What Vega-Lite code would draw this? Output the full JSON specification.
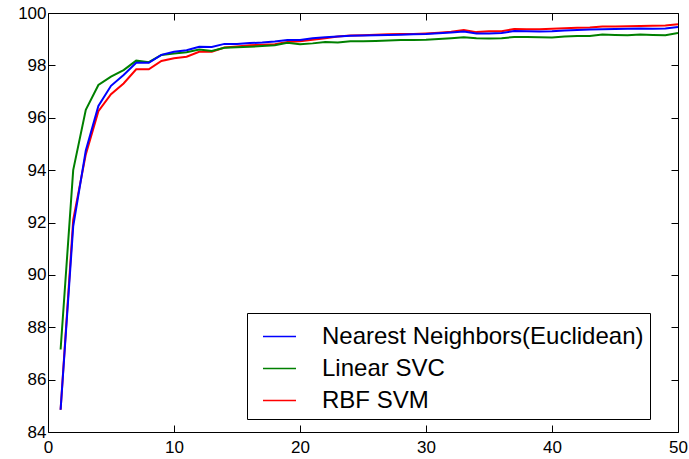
{
  "$schema": "https://vega.github.io/schema/vega-lite/v6.json",
  "width": 630,
  "height": 419,
  "autosize": {"type": "none"},
  "padding": {"left": 48, "top": 13, "right": 11, "bottom": 27},
  "background": "white",
  "config": {
    "view": {"stroke": "black", "strokeWidth": 1},
    "axis": {
      "labelFont": "Liberation Sans",
      "labelFontSize": 17,
      "labelColor": "black",
      "domain": false,
      "grid": false,
      "tickColor": "black",
      "tickSize": -7,
      "tickWidth": 1,
      "title": null
    }
  },
  "datasets": {
    "acc": [
      {"n": 1, "model": "RBF SVM", "acc": 84.85},
      {"n": 2, "model": "RBF SVM", "acc": 92.1},
      {"n": 3, "model": "RBF SVM", "acc": 94.6},
      {"n": 4, "model": "RBF SVM", "acc": 96.25},
      {"n": 5, "model": "RBF SVM", "acc": 96.9},
      {"n": 6, "model": "RBF SVM", "acc": 97.31},
      {"n": 7, "model": "RBF SVM", "acc": 97.85},
      {"n": 8, "model": "RBF SVM", "acc": 97.85},
      {"n": 9, "model": "RBF SVM", "acc": 98.17},
      {"n": 10, "model": "RBF SVM", "acc": 98.27},
      {"n": 11, "model": "RBF SVM", "acc": 98.33},
      {"n": 12, "model": "RBF SVM", "acc": 98.52},
      {"n": 13, "model": "RBF SVM", "acc": 98.52},
      {"n": 14, "model": "RBF SVM", "acc": 98.68},
      {"n": 15, "model": "RBF SVM", "acc": 98.72},
      {"n": 16, "model": "RBF SVM", "acc": 98.77},
      {"n": 17, "model": "RBF SVM", "acc": 98.79},
      {"n": 18, "model": "RBF SVM", "acc": 98.81},
      {"n": 19, "model": "RBF SVM", "acc": 98.89},
      {"n": 20, "model": "RBF SVM", "acc": 98.92},
      {"n": 21, "model": "RBF SVM", "acc": 98.98},
      {"n": 22, "model": "RBF SVM", "acc": 99.04},
      {"n": 23, "model": "RBF SVM", "acc": 99.1},
      {"n": 24, "model": "RBF SVM", "acc": 99.14},
      {"n": 25, "model": "RBF SVM", "acc": 99.15},
      {"n": 26, "model": "RBF SVM", "acc": 99.17},
      {"n": 27, "model": "RBF SVM", "acc": 99.19},
      {"n": 28, "model": "RBF SVM", "acc": 99.2},
      {"n": 29, "model": "RBF SVM", "acc": 99.2},
      {"n": 30, "model": "RBF SVM", "acc": 99.22},
      {"n": 31, "model": "RBF SVM", "acc": 99.25},
      {"n": 32, "model": "RBF SVM", "acc": 99.28},
      {"n": 33, "model": "RBF SVM", "acc": 99.35},
      {"n": 34, "model": "RBF SVM", "acc": 99.27},
      {"n": 35, "model": "RBF SVM", "acc": 99.3},
      {"n": 36, "model": "RBF SVM", "acc": 99.3},
      {"n": 37, "model": "RBF SVM", "acc": 99.39},
      {"n": 38, "model": "RBF SVM", "acc": 99.38},
      {"n": 39, "model": "RBF SVM", "acc": 99.38},
      {"n": 40, "model": "RBF SVM", "acc": 99.4},
      {"n": 41, "model": "RBF SVM", "acc": 99.42},
      {"n": 42, "model": "RBF SVM", "acc": 99.44},
      {"n": 43, "model": "RBF SVM", "acc": 99.45},
      {"n": 44, "model": "RBF SVM", "acc": 99.48},
      {"n": 45, "model": "RBF SVM", "acc": 99.48},
      {"n": 46, "model": "RBF SVM", "acc": 99.49},
      {"n": 47, "model": "RBF SVM", "acc": 99.5},
      {"n": 48, "model": "RBF SVM", "acc": 99.51},
      {"n": 49, "model": "RBF SVM", "acc": 99.52},
      {"n": 50, "model": "RBF SVM", "acc": 99.57},
      {"n": 1, "model": "Linear SVC", "acc": 87.15},
      {"n": 2, "model": "Linear SVC", "acc": 94.0},
      {"n": 3, "model": "Linear SVC", "acc": 96.3},
      {"n": 4, "model": "Linear SVC", "acc": 97.25},
      {"n": 5, "model": "Linear SVC", "acc": 97.57},
      {"n": 6, "model": "Linear SVC", "acc": 97.82},
      {"n": 7, "model": "Linear SVC", "acc": 98.18},
      {"n": 8, "model": "Linear SVC", "acc": 98.12},
      {"n": 9, "model": "Linear SVC", "acc": 98.4},
      {"n": 10, "model": "Linear SVC", "acc": 98.45},
      {"n": 11, "model": "Linear SVC", "acc": 98.5},
      {"n": 12, "model": "Linear SVC", "acc": 98.61},
      {"n": 13, "model": "Linear SVC", "acc": 98.55},
      {"n": 14, "model": "Linear SVC", "acc": 98.67},
      {"n": 15, "model": "Linear SVC", "acc": 98.69},
      {"n": 16, "model": "Linear SVC", "acc": 98.71},
      {"n": 17, "model": "Linear SVC", "acc": 98.74},
      {"n": 18, "model": "Linear SVC", "acc": 98.77},
      {"n": 19, "model": "Linear SVC", "acc": 98.86},
      {"n": 20, "model": "Linear SVC", "acc": 98.81},
      {"n": 21, "model": "Linear SVC", "acc": 98.84},
      {"n": 22, "model": "Linear SVC", "acc": 98.89},
      {"n": 23, "model": "Linear SVC", "acc": 98.87},
      {"n": 24, "model": "Linear SVC", "acc": 98.92},
      {"n": 25, "model": "Linear SVC", "acc": 98.92},
      {"n": 26, "model": "Linear SVC", "acc": 98.93},
      {"n": 27, "model": "Linear SVC", "acc": 98.95},
      {"n": 28, "model": "Linear SVC", "acc": 98.97},
      {"n": 29, "model": "Linear SVC", "acc": 98.97},
      {"n": 30, "model": "Linear SVC", "acc": 98.98},
      {"n": 31, "model": "Linear SVC", "acc": 99.01},
      {"n": 32, "model": "Linear SVC", "acc": 99.04},
      {"n": 33, "model": "Linear SVC", "acc": 99.07},
      {"n": 34, "model": "Linear SVC", "acc": 99.04},
      {"n": 35, "model": "Linear SVC", "acc": 99.03},
      {"n": 36, "model": "Linear SVC", "acc": 99.04},
      {"n": 37, "model": "Linear SVC", "acc": 99.08},
      {"n": 38, "model": "Linear SVC", "acc": 99.08},
      {"n": 39, "model": "Linear SVC", "acc": 99.07},
      {"n": 40, "model": "Linear SVC", "acc": 99.06},
      {"n": 41, "model": "Linear SVC", "acc": 99.1},
      {"n": 42, "model": "Linear SVC", "acc": 99.12},
      {"n": 43, "model": "Linear SVC", "acc": 99.12},
      {"n": 44, "model": "Linear SVC", "acc": 99.18},
      {"n": 45, "model": "Linear SVC", "acc": 99.16},
      {"n": 46, "model": "Linear SVC", "acc": 99.15},
      {"n": 47, "model": "Linear SVC", "acc": 99.18},
      {"n": 48, "model": "Linear SVC", "acc": 99.16},
      {"n": 49, "model": "Linear SVC", "acc": 99.15},
      {"n": 50, "model": "Linear SVC", "acc": 99.24},
      {"n": 1, "model": "Nearest Neighbors(Euclidean)", "acc": 84.85},
      {"n": 2, "model": "Nearest Neighbors(Euclidean)", "acc": 91.85},
      {"n": 3, "model": "Nearest Neighbors(Euclidean)", "acc": 94.75},
      {"n": 4, "model": "Nearest Neighbors(Euclidean)", "acc": 96.45},
      {"n": 5, "model": "Nearest Neighbors(Euclidean)", "acc": 97.22},
      {"n": 6, "model": "Nearest Neighbors(Euclidean)", "acc": 97.63},
      {"n": 7, "model": "Nearest Neighbors(Euclidean)", "acc": 98.1},
      {"n": 8, "model": "Nearest Neighbors(Euclidean)", "acc": 98.1},
      {"n": 9, "model": "Nearest Neighbors(Euclidean)", "acc": 98.4},
      {"n": 10, "model": "Nearest Neighbors(Euclidean)", "acc": 98.52},
      {"n": 11, "model": "Nearest Neighbors(Euclidean)", "acc": 98.58},
      {"n": 12, "model": "Nearest Neighbors(Euclidean)", "acc": 98.71},
      {"n": 13, "model": "Nearest Neighbors(Euclidean)", "acc": 98.7},
      {"n": 14, "model": "Nearest Neighbors(Euclidean)", "acc": 98.82},
      {"n": 15, "model": "Nearest Neighbors(Euclidean)", "acc": 98.82},
      {"n": 16, "model": "Nearest Neighbors(Euclidean)", "acc": 98.85},
      {"n": 17, "model": "Nearest Neighbors(Euclidean)", "acc": 98.87},
      {"n": 18, "model": "Nearest Neighbors(Euclidean)", "acc": 98.91},
      {"n": 19, "model": "Nearest Neighbors(Euclidean)", "acc": 98.97},
      {"n": 20, "model": "Nearest Neighbors(Euclidean)", "acc": 98.97},
      {"n": 21, "model": "Nearest Neighbors(Euclidean)", "acc": 99.04},
      {"n": 22, "model": "Nearest Neighbors(Euclidean)", "acc": 99.07},
      {"n": 23, "model": "Nearest Neighbors(Euclidean)", "acc": 99.1},
      {"n": 24, "model": "Nearest Neighbors(Euclidean)", "acc": 99.13},
      {"n": 25, "model": "Nearest Neighbors(Euclidean)", "acc": 99.14},
      {"n": 26, "model": "Nearest Neighbors(Euclidean)", "acc": 99.15},
      {"n": 27, "model": "Nearest Neighbors(Euclidean)", "acc": 99.16},
      {"n": 28, "model": "Nearest Neighbors(Euclidean)", "acc": 99.17},
      {"n": 29, "model": "Nearest Neighbors(Euclidean)", "acc": 99.19},
      {"n": 30, "model": "Nearest Neighbors(Euclidean)", "acc": 99.2},
      {"n": 31, "model": "Nearest Neighbors(Euclidean)", "acc": 99.23},
      {"n": 32, "model": "Nearest Neighbors(Euclidean)", "acc": 99.26},
      {"n": 33, "model": "Nearest Neighbors(Euclidean)", "acc": 99.29},
      {"n": 34, "model": "Nearest Neighbors(Euclidean)", "acc": 99.22},
      {"n": 35, "model": "Nearest Neighbors(Euclidean)", "acc": 99.22},
      {"n": 36, "model": "Nearest Neighbors(Euclidean)", "acc": 99.24},
      {"n": 37, "model": "Nearest Neighbors(Euclidean)", "acc": 99.31},
      {"n": 38, "model": "Nearest Neighbors(Euclidean)", "acc": 99.3},
      {"n": 39, "model": "Nearest Neighbors(Euclidean)", "acc": 99.29},
      {"n": 40, "model": "Nearest Neighbors(Euclidean)", "acc": 99.3},
      {"n": 41, "model": "Nearest Neighbors(Euclidean)", "acc": 99.33},
      {"n": 42, "model": "Nearest Neighbors(Euclidean)", "acc": 99.35},
      {"n": 43, "model": "Nearest Neighbors(Euclidean)", "acc": 99.37},
      {"n": 44, "model": "Nearest Neighbors(Euclidean)", "acc": 99.38},
      {"n": 45, "model": "Nearest Neighbors(Euclidean)", "acc": 99.39},
      {"n": 46, "model": "Nearest Neighbors(Euclidean)", "acc": 99.4},
      {"n": 47, "model": "Nearest Neighbors(Euclidean)", "acc": 99.41},
      {"n": 48, "model": "Nearest Neighbors(Euclidean)", "acc": 99.4},
      {"n": 49, "model": "Nearest Neighbors(Euclidean)", "acc": 99.41},
      {"n": 50, "model": "Nearest Neighbors(Euclidean)", "acc": 99.47}
    ]
  },
  "data": {"name": "acc"},
  "layer": [
    {
      "mark": {"type": "line", "strokeWidth": 2, "clip": true},
      "encoding": {
        "x": {
          "field": "n", "type": "quantitative",
          "scale": {"domain": [0, 50], "nice": false, "zero": false},
          "axis": {"orient": "bottom", "values": [0, 10, 20, 30, 40, 50], "labelPadding": 14, "labelFlush": false}
        },
        "y": {
          "field": "acc", "type": "quantitative",
          "scale": {"domain": [84, 100], "nice": false, "zero": false},
          "axis": {"orient": "left", "values": [84, 86, 88, 90, 92, 94, 96, 98, 100], "labelPadding": 9, "labelFlush": false}
        },
        "color": {
          "field": "model", "type": "nominal",
          "scale": {
            "domain": ["Nearest Neighbors(Euclidean)", "Linear SVC", "RBF SVM"],
            "range": ["#0000ff", "#008000", "#ff0000"]
          },
          "legend": {
            "title": null,
            "orient": "none",
            "legendX": 199,
            "legendY": 300,
            "symbolType": "stroke",
            "symbolSize": 1089,
            "symbolStrokeWidth": 1.5,
            "labelFont": "Liberation Sans",
            "labelFontSize": 24,
            "labelColor": "black",
            "labelOffset": 25,
            "labelLimit": 400,
            "rowPadding": 2,
            "padding": 6,
            "strokeColor": "black",
            "fillColor": "white",
            "cornerRadius": 0,
            "symbolOffset": 9
          }
        },
        "order": {"field": "n", "type": "quantitative"}
      }
    },
    {
      "mark": {"type": "line", "opacity": 0},
      "encoding": {
        "x": {
          "field": "n", "type": "quantitative",
          "axis": {"orient": "top", "values": [0, 10, 20, 30, 40, 50], "labels": false}
        },
        "y": {
          "field": "acc", "type": "quantitative",
          "axis": {"orient": "right", "values": [84, 86, 88, 90, 92, 94, 96, 98, 100], "labels": false}
        },
        "detail": {"field": "model"}
      }
    }
  ],
  "resolve": {"axis": {"x": "independent", "y": "independent"}}
}
